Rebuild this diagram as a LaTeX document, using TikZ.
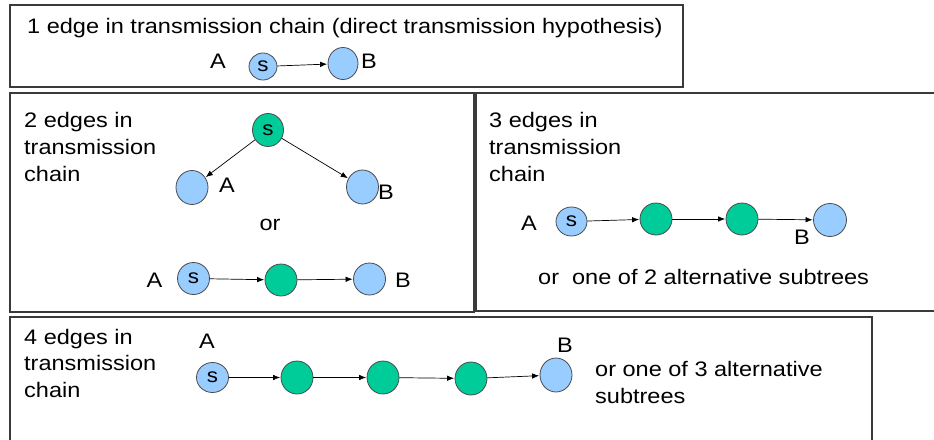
\documentclass[tikz,border=0pt]{standalone}
\usepackage{fontspec}
\setmainfont{Liberation Sans}[FakeStretch=1.12]
\usetikzlibrary{shapes.geometric,arrows.meta}
\definecolor{nodeblue}{HTML}{99CCFF}
\definecolor{nodegreen}{HTML}{00CC99}
\definecolor{framegray}{HTML}{3A3A3A}
\definecolor{rimgray}{HTML}{4A4A4A}
\tikzset{
  frame/.style={draw=framegray, line width=1.1pt},
  txt/.style={inner sep=0pt, font=\fontsize{21}{27}\selectfont},
  lbl/.style={txt, anchor=base west},
  host/.style={ellipse, draw=rimgray, line width=0.8pt, inner sep=0pt,
    minimum width=#1, font=\fontsize{20}{22}\selectfont},
  host/.default={30pt},
  bnode/.style={host, fill=nodeblue, minimum height=30pt},
  gnode/.style={host, fill=nodegreen, minimum height=32pt, minimum width=32pt},
  link/.style={-{Latex[length=7pt,width=5.5pt]}, line width=0.7pt, black, shorten >=0.5pt}
}
\begin{document}
\begin{tikzpicture}[x=1pt, y=-1pt]
\clip (0,0) rectangle (934,439);
\fill[white] (0,0) rectangle (934,439);

% ---- frames ----
\draw[frame] (10,5) rectangle (683,87);
\draw[frame] (10,93) rectangle (474,312);
\draw[frame] (476,93) rectangle (950,311);
\draw[frame] (10,317) rectangle (872,460);

% ---- one edge ----
\node[lbl] (t1) at (27,33) {1 edge in transmission chain (direct transmission hypothesis)};
\node[txt] (a1) at (218,61) {A};
\node[bnode, minimum width=28pt, minimum height=27pt] (s1) at (263,66.5) {s};
\node[bnode, minimum width=30pt, minimum height=32pt] (b1) at (343,63.5) {};
\node[txt] (bl1) at (369,61) {B};
\draw[link] (s1) -- (b1);

% ---- two edges ----
\node[lbl] (t2a) at (24,127) {2 edges in};
\node[lbl] (t2b) at (24,154) {transmission};
\node[lbl] (t2c) at (24,181) {chain};
\node[gnode, minimum width=31pt, minimum height=33pt] (s2) at (268,130) {s};
\node[bnode, minimum width=32pt, minimum height=34pt] (a2) at (192,187.5) {};
\node[txt] (al2) at (227,185) {A};
\node[bnode, minimum width=32pt, minimum height=34pt] (b2) at (362.5,187) {};
\node[txt] (bl2) at (386,192) {B};
\draw[link] (s2) -- (a2);
\draw[link] (s2) -- (b2);
\node[txt] (or2) at (270,225) {or};
\node[txt] (al3) at (154.5,280.5) {A};
\node[bnode, minimum width=32pt, minimum height=32pt] (s3) at (193.5,278.5) {s};
\node[gnode] (m3) at (281,280) {};
\node[bnode, minimum width=32pt, minimum height=32pt] (b3) at (369.5,279) {};
\node[txt] (bl3) at (403,280.5) {B};
\draw[link] (s3) -- (m3);
\draw[link] (m3) -- (b3);

% ---- three edges ----
\node[lbl] (t3a) at (489,127) {3 edges in};
\node[lbl] (t3b) at (489,154) {transmission};
\node[lbl] (t3c) at (489,181) {chain};
\node[txt] (al4) at (529,223) {A};
\node[bnode, minimum width=31pt, minimum height=29pt] (s4) at (571.5,221.5) {s};
\node[gnode] (m4) at (656,219) {};
\node[gnode] (n4) at (742,219) {};
\node[bnode, minimum width=33pt, minimum height=33pt] (b4) at (830,220) {};
\node[txt] (bl4) at (802,237.5) {B};
\draw[link] (s4) -- (m4);
\draw[link] (m4) -- (n4);
\draw[link] (n4) -- (b4);
\node[lbl] (alt3) at (538,284) {or\ \ one of 2 alternative subtrees};

% ---- four edges ----
\node[lbl] (t5a) at (24,344) {4 edges in};
\node[lbl] (t5b) at (24,370.5) {transmission};
\node[lbl] (t5c) at (24,397) {chain};
\node[txt] (al5) at (207,341) {A};
\node[bnode, minimum width=32pt, minimum height=30pt] (s5) at (212.5,377.5) {s};
\node[gnode, minimum height=33pt] (m5) at (297,377.5) {};
\node[gnode, minimum height=33pt] (n5) at (383,377.5) {};
\node[gnode, minimum height=33pt] (o5) at (471,378.5) {};
\node[bnode, minimum width=32pt, minimum height=34pt] (b5) at (556,375) {};
\node[txt] (bl5) at (565,345.5) {B};
\draw[link] (s5) -- (m5);
\draw[link] (m5) -- (n5);
\draw[link] (n5) -- (o5);
\draw[link] (o5) -- (b5);
\node[lbl] (alt5a) at (595,376) {or one of 3 alternative};
\node[lbl] (alt5b) at (595,403) {subtrees};
\end{tikzpicture}
\end{document}
